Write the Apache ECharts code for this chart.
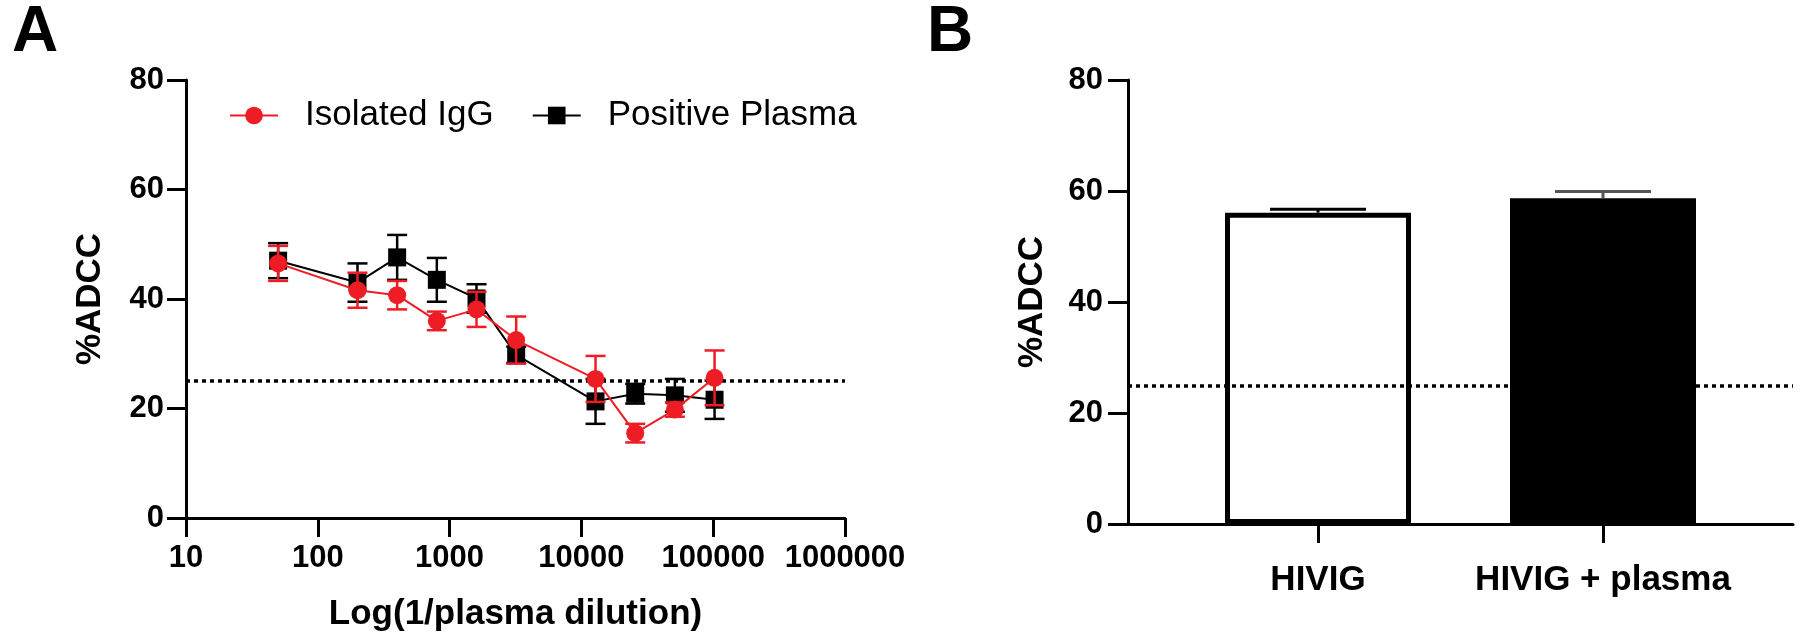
<!DOCTYPE html>
<html><head><meta charset="utf-8">
<script src="https://cdn.jsdelivr.net/npm/echarts@6/dist/echarts.min.js"></script>
<style>html,body{margin:0;padding:0;background:#fff}#c{width:1800px;height:642px}</style>
</head><body><div id="c"></div>
<script>
// ---- Panel A data ----
const dilutions = [50, 200, 400, 800, 1600, 3200, 12800, 25600, 51200, 102400];
const iggMean = [46.5, 41.6, 40.7, 36.0, 38.1, 32.5, 25.4, 15.5, 19.8, 25.6];
const iggErr = [3.2, 3.2, 2.6, 1.7, 3.2, 4.3, 4.2, 1.7, 1.3, 5.0];
const plasmaMean = [47.0, 43.0, 47.6, 43.5, 40.1, 29.8, 21.3, 22.7, 22.4, 21.6];
const plasmaErr = [3.2, 3.5, 4.1, 4.0, 2.6, 1.5, 4.1, 1.8, 3.0, 3.5];
const xTickLabels = ['10', '100', '1000', '10000', '100000', '1000000'];
const seriesNames = ['Isolated IgG', 'Positive Plasma'];
// ---- Panel B data ----
const barCategories = ['HIVIG', 'HIVIG + plasma'];
const barMean = [56.1, 58.7];
const barErr = [0.6, 1.2];
const threshold = 25;

const FONT = 'Liberation Sans';
const RED = '#ee1c25';

function errRender(color, capW, lw, upperOnly) {
  return function (params, api) {
    const x = api.value(0), lo = api.value(1), hi = api.value(2);
    const pLo = api.coord([x, lo]), pHi = api.coord([x, hi]);
    const c = typeof color === 'function' ? color(params.dataIndex) : color;
    const st = { stroke: c, lineWidth: lw };
    const ch = [
      { type: 'line', shape: { x1: pLo[0], y1: pLo[1], x2: pHi[0], y2: pHi[1] }, style: st },
      { type: 'line', shape: { x1: pHi[0] - capW / 2, y1: pHi[1], x2: pHi[0] + capW / 2, y2: pHi[1] }, style: st }
    ];
    if (!upperOnly) ch.push({ type: 'line', shape: { x1: pLo[0] - capW / 2, y1: pLo[1], x2: pLo[0] + capW / 2, y2: pLo[1] }, style: st });
    return { type: 'group', children: ch };
  };
}

const iggLine = dilutions.map((d, i) => [d, iggMean[i]]);
const plasmaLine = dilutions.map((d, i) => [d, plasmaMean[i]]);
const iggBars = dilutions.map((d, i) => [d, iggMean[i] - iggErr[i], iggMean[i] + iggErr[i]]);
const plasmaBars = dilutions.map((d, i) => [d, plasmaMean[i] - plasmaErr[i], plasmaMean[i] + plasmaErr[i]]);
const bBars = barMean.map((v, i) => ({
  value: [i, v],
  itemStyle: i === 0 ? { color: '#fff', borderColor: '#000', borderWidth: 5 } : { color: '#000' }
}));
const bErr = barMean.map((v, i) => [i, v, v + barErr[i]]);

const axisLine = { onZero: false, lineStyle: { color: '#000', width: 3 } };
const tickLabel = { color: '#000', fontFamily: FONT, fontWeight: 'bold', fontSize: 31 };
const nameStyle = { color: '#000', fontFamily: FONT, fontWeight: 'bold', fontSize: 35 };
const dotted = { color: '#000', type: [4, 4], width: 3.5 };

const chart = echarts.init(document.getElementById('c'), null, { renderer: 'canvas' });
chart.setOption({
  backgroundColor: '#fff',
  animation: false,
  title: [
    { text: 'A', left: 7, top: -4, textStyle: { fontSize: 64, fontWeight: 'bold', fontFamily: FONT, color: '#000' } },
    { text: 'B', left: 922, top: -4, textStyle: { fontSize: 64, fontWeight: 'bold', fontFamily: FONT, color: '#000' } }
  ],
  legend: {
    left: 224, top: 93, itemWidth: 48, itemHeight: 22, itemGap: 38,
    selectedMode: false,
    data: seriesNames,
    textStyle: { fontFamily: FONT, fontSize: 35, color: '#000', padding: [0, 0, 0, 22] }
  },
  grid: [
    { left: 186, top: 80, width: 659, height: 438 },
    { left: 1128, top: 80, width: 665, height: 444 }
  ],
  xAxis: [
    {
      gridIndex: 0, type: 'log', logBase: 10, min: 10, max: 1000000,
      name: 'Log(1/plasma dilution)', nameLocation: 'middle', nameGap: 79, nameTextStyle: nameStyle,
      axisLine: axisLine,
      axisTick: { length: 19, lineStyle: { width: 3, color: '#000' } },
      minorTick: { show: false },
      splitLine: { show: false },
      axisLabel: Object.assign({ margin: 25, showMinLabel: true, showMaxLabel: true,
        formatter: v => xTickLabels[Math.round(Math.log10(v)) - 1] }, tickLabel)
    },
    {
      gridIndex: 1, type: 'value', min: -2 / 3, max: 5 / 3,
      axisLine: axisLine,
      axisTick: { length: 19, customValues: [0, 1], lineStyle: { width: 3, color: '#000' } },
      splitLine: { show: false },
      axisLabel: Object.assign({ margin: 39, customValues: [0, 1],
        formatter: v => barCategories[Math.round(v)] }, nameStyle)
    }
  ],
  yAxis: [
    {
      gridIndex: 0, type: 'value', min: 0, max: 80, interval: 20,
      name: '%ADCC', nameLocation: 'middle', nameGap: 78, nameTextStyle: nameStyle,
      axisLine: Object.assign({ show: true }, axisLine),
      axisTick: { show: true, length: 19, lineStyle: { width: 3, color: '#000' } },
      splitLine: { show: false },
      axisLabel: Object.assign({ margin: 22 }, tickLabel)
    },
    {
      gridIndex: 1, type: 'value', min: 0, max: 80, interval: 20,
      name: '%ADCC', nameLocation: 'middle', nameGap: 78, nameTextStyle: nameStyle,
      axisLine: Object.assign({ show: true }, axisLine),
      axisTick: { show: true, length: 20, lineStyle: { width: 3, color: '#000' } },
      splitLine: { show: false },
      axisLabel: Object.assign({ margin: 25 }, tickLabel)
    }
  ],
  series: [
    {
      type: 'custom', name: 'plasmaErr', xAxisIndex: 0, yAxisIndex: 0, z: 2,
      renderItem: errRender('#000', 20, 2.5, false), data: plasmaBars,
      encode: { x: 0, y: [1, 2] }, silent: true
    },
    {
      type: 'line', name: seriesNames[1], xAxisIndex: 0, yAxisIndex: 0, z: 3,
      data: plasmaLine, symbol: 'rect', symbolSize: 18,
      itemStyle: { color: '#000' }, lineStyle: { color: '#000', width: 2 },
      markLine: {
        silent: true, symbol: 'none', label: { show: false },
        lineStyle: dotted,
        data: [{ yAxis: threshold }]
      }
    },
    {
      type: 'custom', name: 'iggErr', xAxisIndex: 0, yAxisIndex: 0, z: 4,
      renderItem: errRender(RED, 20, 2.5, false), data: iggBars,
      encode: { x: 0, y: [1, 2] }, silent: true
    },
    {
      type: 'line', name: seriesNames[0], xAxisIndex: 0, yAxisIndex: 0, z: 5,
      data: iggLine, symbol: 'circle', symbolSize: 18,
      itemStyle: { color: RED }, lineStyle: { color: RED, width: 2 }
    },
    {
      type: 'bar', name: 'bars', xAxisIndex: 1, yAxisIndex: 1, z: 2,
      barWidth: 186, data: bBars,
      markLine: {
        silent: true, symbol: 'none', label: { show: false },
        lineStyle: dotted,
        data: [{ yAxis: threshold }]
      }
    },
    {
      type: 'custom', name: 'barErr', xAxisIndex: 1, yAxisIndex: 1, z: 3,
      renderItem: errRender(i => i === 1 ? '#555' : '#000', 96, 3, true), data: bErr,
      encode: { x: 0, y: [1, 2] }, silent: true
    }
  ]
});
</script>
</body></html>
